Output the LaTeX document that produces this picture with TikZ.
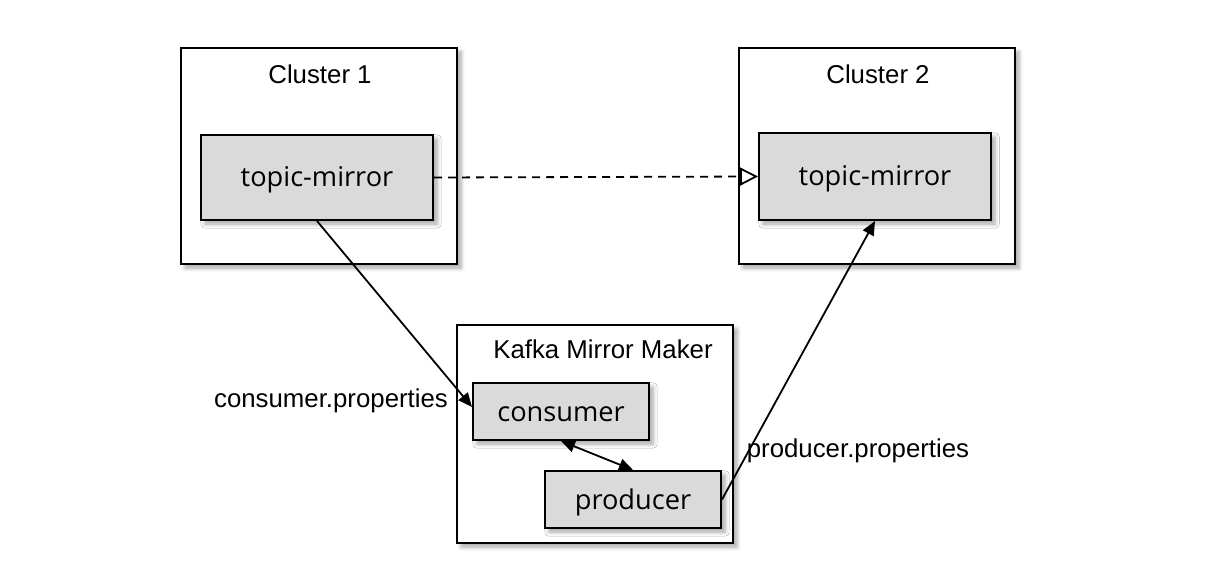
\documentclass[tikz,border=0pt]{standalone}
\usepackage{fontspec}
\setmainfont{Liberation Sans}
\newfontfamily\boxfont{Open Sans}
\usetikzlibrary{shadows.blur,arrows.meta}
\definecolor{boxgray}{HTML}{DADADA}
\tikzset{
  outer/.style={draw=black, line width=1pt, fill=white, minimum width=138pt, inner sep=0pt,
    blur shadow={shadow xshift=2pt, shadow yshift=-2pt, shadow blur steps=6, shadow opacity=35}},
  inner/.style={draw=black, line width=1pt, fill=boxgray, inner sep=0pt, text depth=0pt, text height=0.95em,
    font=\boxfont\fontsize{13.6pt}{16pt}\selectfont,
    blur shadow={shadow xshift=2pt, shadow yshift=-2pt, shadow blur steps=6, shadow opacity=35}},
  lbl/.style={font=\fontsize{12.9pt}{15pt}\selectfont, inner sep=0pt},
  conn/.style={line width=0.9pt, -{Triangle[length=7pt,width=6pt]}},
}
\begin{document}
\begin{tikzpicture}[x=0.5pt,y=-0.5pt]
\useasboundingbox (0,0) rectangle (1214,572);
\node[outer, minimum height=108pt] (c1) at (319,156) {};
\node[outer, minimum height=108pt] (c2) at (877,156) {};
\node[outer, minimum height=109pt] (kmm) at (595,434) {};
\node[lbl] (c1l) at (320,74) {Cluster 1};
\node[lbl] (c2l) at (878,74) {Cluster 2};
\node[lbl] (kmml) at (603,349) {Kafka Mirror Maker};
\node[inner, minimum width=116pt, minimum height=42.5pt] (tm1) at (317,177.5) {topic-mirror};
\node[inner, minimum width=116pt, minimum height=43.5pt] (tm2) at (875,176.5) {topic-mirror};
\node[inner, minimum width=88pt, minimum height=28.5pt] (cons) at (561,411.5) {consumer};
\node[inner, minimum width=88pt, minimum height=28.5pt] (prod) at (633,499.5) {producer};
\node[lbl] (cp) at (331,401) {consumer.properties};
\node[lbl] (pp) at (858,451) {producer.properties};
\draw[line width=0.9pt, dash pattern=on 4pt off 3pt, -{Triangle[open,length=9pt,width=9pt]}] (tm1.east) -- (tm2.west);
\draw[conn] (tm1.south) -- ([yshift=2.25pt]cons.west);
\draw[conn] (prod.east) -- (tm2.south);
\draw[line width=0.9pt, {Triangle[length=7pt,width=6pt]}-{Triangle[length=7pt,width=6pt]}] (cons.south) -- (prod.north);
\end{tikzpicture}
\end{document}
